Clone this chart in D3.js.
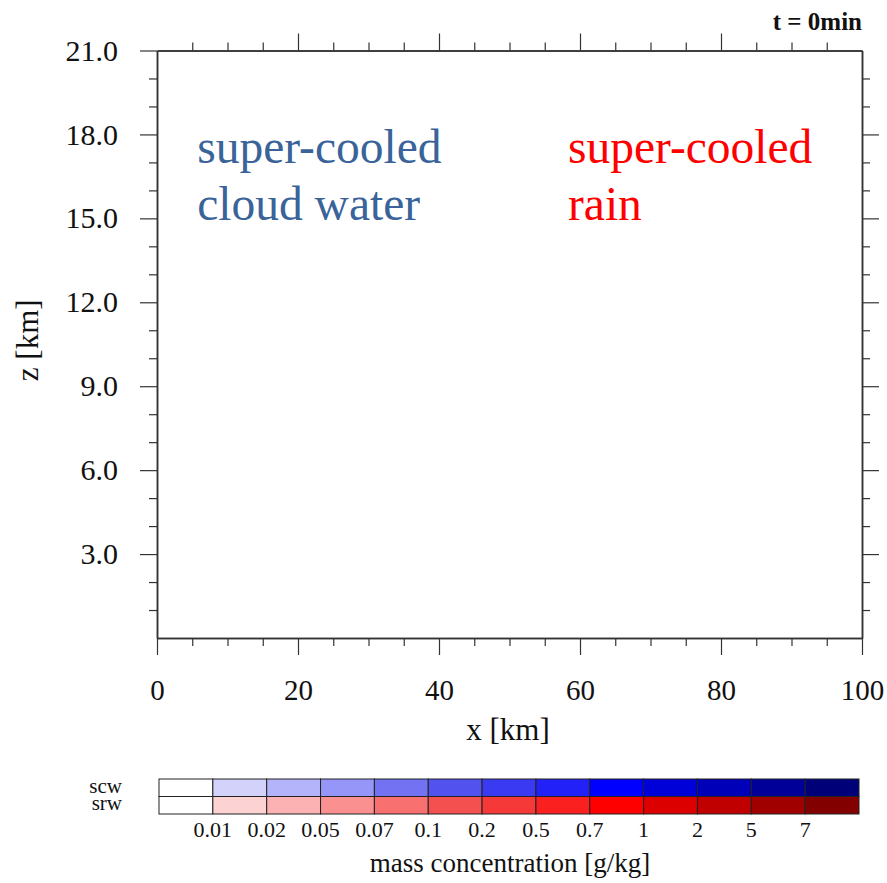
<!DOCTYPE html>
<html>
<head>
<meta charset="utf-8">
<script src="https://cdn.jsdelivr.net/npm/d3@7"></script>
<style>
  body { margin: 0; background: #fff; }
  svg text { font-family: "Liberation Serif", "DejaVu Serif", serif; }
</style>
</head>
<body>
<div id="chart"></div>
<script>
// axis ranges and ticks
const xDomain = [0, 100];
const zDomain = [0, 21];
const xMajor = [0, 20, 40, 60, 80, 100];
const xMinor = d3.range(0, 101, 5);
const zMajor = [3, 6, 9, 12, 15, 18, 21];
const zMinor = d3.range(0, 22, 1);

// colour bar
const levels = ['0.01', '0.02', '0.05', '0.07', '0.1', '0.2', '0.5', '0.7', '1', '2', '5', '7'];
const scwColors = ['#ffffff', '#d2d2fa', '#b4b4fa', '#9696f8', '#7272f2', '#5252ee',
  '#3a3af2', '#2222f8', '#0000ff', '#0000d8', '#0000b8', '#000098', '#000078'];
const srwColors = ['#ffffff', '#fcd2d2', '#fcb2b2', '#fa9090', '#f87070', '#f55050',
  '#f53838', '#fa2020', '#ff0000', '#dc0000', '#c00000', '#a00000', '#820000'];
const barRows = ['scw', 'srw'];

const width = 887;
const height = 883;
const margin = { top: 50.5, right: 25, bottom: 245, left: 157 };
const plotW = width - margin.left - margin.right;
const plotH = height - margin.top - margin.bottom;

const svg = d3.select('#chart')
  .append('svg')
  .attr('width', width)
  .attr('height', height);

const x = d3.scaleLinear().domain(xDomain).range([0, plotW]);
const z = d3.scaleLinear().domain(zDomain).range([plotH, 0]);

const plot = svg.append('g')
  .attr('transform', `translate(${margin.left},${margin.top})`);

const axisColor = '#333';

function styleAxis (g) {
  g.selectAll('.domain').attr('stroke', axisColor).attr('stroke-width', 1.5);
  g.selectAll('.tick line').attr('stroke', axisColor).attr('stroke-width', 1.2);
}

// minor ticks first, then majors on top
const minorX = xMinor.filter((v) => !xMajor.includes(v));
const minorZ = zMinor.filter((v) => !zMajor.includes(v) && v !== 0);

plot.append('g')
  .attr('transform', `translate(0,${plotH})`)
  .call(d3.axisBottom(x).tickValues(minorX).tickSize(8).tickSizeOuter(0).tickFormat(''))
  .call(styleAxis);
const xAxis = plot.append('g')
  .attr('transform', `translate(0,${plotH})`)
  .call(d3.axisBottom(x).tickValues(xMajor).tickSize(17).tickSizeOuter(0).tickPadding(24))
  .call(styleAxis);
xAxis.selectAll('text')
  .attr('font-size', 29)
  .attr('fill', '#111')
  .attr('dy', '0.71em');

plot.append('g')
  .call(d3.axisTop(x).tickValues(minorX).tickSize(8).tickSizeOuter(0).tickFormat(''))
  .call(styleAxis);
plot.append('g')
  .call(d3.axisTop(x).tickValues(xMajor.filter((v) => v > 0 && v < 100)).tickSize(17).tickSizeOuter(0).tickFormat(''))
  .call(styleAxis);

plot.append('g')
  .call(d3.axisLeft(z).tickValues(minorZ).tickSize(8).tickSizeOuter(0).tickFormat(''))
  .call(styleAxis);
const zAxis = plot.append('g')
  .call(d3.axisLeft(z).tickValues(zMajor).tickSize(17).tickSizeOuter(0).tickPadding(22).tickFormat(d3.format('.1f')))
  .call(styleAxis);
zAxis.selectAll('text')
  .attr('font-size', 30)
  .attr('fill', '#111');

plot.append('g')
  .attr('transform', `translate(${plotW},0)`)
  .call(d3.axisRight(z).tickValues(minorZ).tickSize(8).tickSizeOuter(0).tickFormat(''))
  .call(styleAxis);
plot.append('g')
  .attr('transform', `translate(${plotW},0)`)
  .call(d3.axisRight(z).tickValues(zMajor.filter((v) => v < 21)).tickSize(17).tickSizeOuter(0).tickFormat(''))
  .call(styleAxis);

// axis titles
svg.append('text')
  .attr('x', 508)
  .attr('y', 740)
  .attr('text-anchor', 'middle')
  .attr('font-size', 31)
  .attr('fill', '#111')
  .text('x [km]');

svg.append('text')
  .attr('transform', `translate(38,${margin.top + plotH / 2 - 4}) rotate(-90)`)
  .attr('text-anchor', 'middle')
  .attr('font-size', 31)
  .attr('fill', '#111')
  .text('z [km]');

svg.append('text')
  .attr('x', margin.left + plotW)
  .attr('y', 30)
  .attr('text-anchor', 'end')
  .attr('font-size', 25)
  .attr('font-weight', 'bold')
  .attr('fill', '#111')
  .text('t = 0min');

// annotations
const notes = [
  { lines: ['super-cooled', 'cloud water'], x: 5.7, color: '#3a6499' },
  { lines: ['super-cooled', 'rain'], x: 58.3, color: '#ff0000' }
];
notes.forEach((n) => {
  n.lines.forEach((line, i) => {
    svg.append('text')
      .attr('x', margin.left + x(n.x))
      .attr('y', 163 + i * 57)
      .attr('font-size', 47.5)
      .attr('fill', n.color)
      .text(line);
  });
});

// colour bar
const barX = d3.scaleLinear().domain([0, scwColors.length]).range([159, 859]);
const barY = d3.scaleBand().domain(barRows).range([779, 814]);
const bar = svg.append('g');

[scwColors, srwColors].forEach((colors, r) => {
  bar.selectAll(null)
    .data(colors)
    .enter()
    .append('rect')
    .attr('x', (d, i) => barX(i))
    .attr('y', barY(barRows[r]))
    .attr('width', barX(1) - barX(0))
    .attr('height', barY.bandwidth())
    .attr('fill', (d) => d)
    .attr('stroke', '#222')
    .attr('stroke-width', 1);
});

bar.selectAll('.row-label')
  .data(barRows)
  .enter()
  .append('text')
  .attr('class', 'row-label')
  .attr('x', 122)
  .attr('y', (d) => barY(d) + barY.bandwidth() - 4)
  .attr('text-anchor', 'end')
  .attr('font-size', 21)
  .attr('fill', '#111')
  .text((d) => d);

bar.selectAll('.level')
  .data(levels)
  .enter()
  .append('text')
  .attr('class', 'level')
  .attr('x', (d, i) => barX(i + 1))
  .attr('y', 837)
  .attr('text-anchor', 'middle')
  .attr('font-size', 22)
  .attr('fill', '#111')
  .text((d) => d);

svg.append('text')
  .attr('x', 510)
  .attr('y', 872)
  .attr('text-anchor', 'middle')
  .attr('font-size', 27)
  .attr('fill', '#111')
  .text('mass concentration [g/kg]');
</script>
</body>
</html>
